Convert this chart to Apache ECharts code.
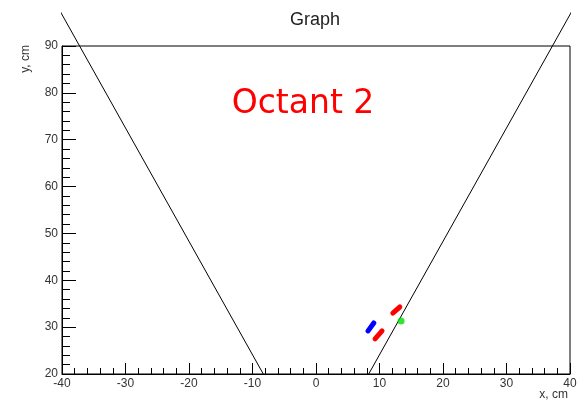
<!DOCTYPE html>
<html>
<head>
<meta charset="utf-8">
<script src="https://cdn.jsdelivr.net/npm/echarts@6/dist/echarts.min.js"></script>
<style>
  html, body { margin: 0; padding: 0; background: #fff; }
  #chart { width: 586px; height: 404px; }
</style>
</head>
<body>
<div id="chart"></div>
<script>
// Octant boundary lines (x, y in cm)
const boundaryLeft = [[-8.3, 20], [-40.7, 98.4]];
const boundaryRight = [[8.3, 20], [40.7, 98.4]];

// Detector hits
const blueHit = [[8.2, 29.2], [9.1, 30.9]];
const redHitUpper = [[12.1, 33.0], [13.2, 34.3]];
const redHitLower = [[9.3, 27.5], [10.4, 29.2]];
const greenHit = [[13.4, 31.3]];

// Axis ranges and tick labels
const xRange = [-40, 40];
const yRange = [20, 90];
const xTickLabels = ['-40', '-30', '-20', '-10', '0', '10', '20', '30', '40'];
const yTickLabels = ['20', '30', '40', '50', '60', '70', '80', '90'];

const chart = echarts.init(document.getElementById('chart'), null, { renderer: 'canvas' });

const labelFont = 'Liberation Sans, Arial, Helvetica, sans-serif';

function hitSeries(data, color) {
  return {
    type: 'line',
    data: data,
    showSymbol: false,
    symbol: 'none',
    lineStyle: { color: color, width: 5, cap: 'round' },
    z: 5,
    animation: false
  };
}

chart.setOption({
  animation: false,
  backgroundColor: '#fff',
  grid: {
    left: 62, right: 16, top: 46, bottom: 30,
    show: true, borderColor: '#000', borderWidth: 1, backgroundColor: 'transparent'
  },
  xAxis: {
    type: 'value',
    min: xRange[0], max: xRange[1], interval: 10,
    splitLine: { show: false },
    axisLine: { onZero: false, lineStyle: { color: '#000', width: 1 } },
    axisTick: { inside: true, length: 11, lineStyle: { color: '#000' } },
    minorTick: { show: true, splitNumber: 5, length: 6, lineStyle: { color: '#000' } },
    axisLabel: {
      margin: 4, fontSize: 12, color: '#333', fontFamily: labelFont,
      formatter: v => xTickLabels[Math.round((v - xRange[0]) / 10)]
    }
  },
  yAxis: {
    type: 'value',
    min: yRange[0], max: yRange[1], interval: 10,
    splitLine: { show: false },
    axisLine: { onZero: false, lineStyle: { color: '#000', width: 1 } },
    axisTick: { inside: true, length: 14, lineStyle: { color: '#000' } },
    minorTick: { show: true, splitNumber: 5, length: 8, lineStyle: { color: '#000' } },
    axisLabel: {
      margin: 4, fontSize: 12, color: '#333', fontFamily: labelFont,
      formatter: v => yTickLabels[Math.round((v - yRange[0]) / 10)]
    }
  },
  graphic: [
    {
      type: 'text', x: 315, y: 20,
      style: { text: 'Graph', fontSize: 18, fill: '#222', fontFamily: labelFont, align: 'center', verticalAlign: 'middle' }
    },
    {
      type: 'text', x: 303, y: 104,
      style: { text: 'Octant 2', fontSize: 33, fill: '#ff0000', fontFamily: 'DejaVu Sans, sans-serif', align: 'center', verticalAlign: 'middle' }
    },
    {
      type: 'text', x: 568, y: 395,
      style: { text: 'x, cm', fontSize: 12, fill: '#333', fontFamily: labelFont, align: 'right', verticalAlign: 'middle' }
    },
    {
      type: 'text', x: 26, y: 45, rotation: Math.PI / 2,
      style: { text: 'y, cm', fontSize: 12, fill: '#333', fontFamily: labelFont, align: 'right', verticalAlign: 'middle' }
    }
  ],
  series: [
    {
      type: 'line', data: boundaryLeft, symbol: 'none', clip: false,
      lineStyle: { color: '#000', width: 1 }, z: 4
    },
    {
      type: 'line', data: boundaryRight, symbol: 'none', clip: false,
      lineStyle: { color: '#000', width: 1 }, z: 4
    },
    hitSeries(blueHit, '#0000ff'),
    hitSeries(redHitUpper, '#ff0000'),
    hitSeries(redHitLower, '#ff0000'),
    {
      type: 'scatter', data: greenHit, symbol: 'circle', symbolSize: 7,
      itemStyle: { color: '#00dd00' }, z: 6
    }
  ]
});
</script>
</body>
</html>
